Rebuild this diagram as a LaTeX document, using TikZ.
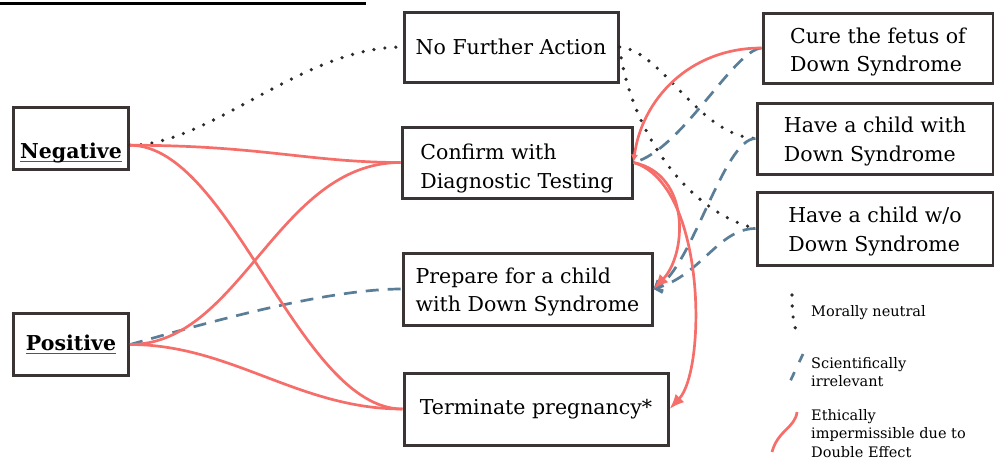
\documentclass[tikz,border=0pt]{standalone}
\usepackage{fontspec}
\setmainfont{DejaVu Serif}
\usetikzlibrary{arrows.meta}
\definecolor{boxc}{HTML}{3B3434}
\definecolor{redc}{HTML}{F66E6A}
\definecolor{bluec}{HTML}{5B7E98}
\definecolor{dotc}{HTML}{2B2B2B}
\definecolor{ulc}{HTML}{555555}
\newcommand\myul[1]{\setbox0\hbox{#1}\rlap{\textcolor{ulc}{\vrule height -2.5pt depth 4.2pt width \wd0}}\box0}
\newcommand\tstrut[1]{\rule{0pt}{#1}}
\begin{document}
\begin{tikzpicture}[x=1pt,y=-1pt,
  box/.style={draw=boxc, line width=3pt, fill=white, align=left, inner sep=0pt,
    font=\fontsize{20.5}{28.5}\selectfont},
  redl/.style={draw=redc, line width=2.7pt},
  dashl/.style={draw=bluec, line width=2.7pt, dash pattern=on 13pt off 9pt},
  dotl/.style={draw=dotc, line width=3.6pt, line cap=round, dash pattern=on 0pt off 11pt},
  bigtip/.style={-{Latex[length=15pt,width=12pt]}},
  smalltip/.style={-{Latex[length=8pt,width=7pt]}},
  bluetip/.style={-{Straight Barb[length=6pt,width=12pt]}},
  legtext/.style={anchor=north west, inner sep=0pt, align=left,
    font=\fontsize{14.5}{18.5}\selectfont}
]
\useasboundingbox (0,0) rectangle (994,461);

% title rule (text cut off above)
\draw[line width=3.2pt] (0,3.5) -- (366,3.5);

% nodes
\node[box, minimum width=115pt, minimum height=62pt] (neg) at (71,138) {\tstrut{45pt}\textbf{\myul{Negative}}};
\node[box, minimum width=115pt, minimum height=62pt] (pos) at (71,344.5) {\textbf{\myul{Positive}}};
\node[box, minimum width=214pt, minimum height=70pt] (nfa) at (511,47) {No Further Action};
\node[box, minimum width=230pt, minimum height=71pt] (conf) at (517,162.5) {\tstrut{27.6pt}Confirm with\\Diagnostic Testing};
\node[box, minimum width=249pt, minimum height=72pt] (prep) at (527.5,289) {\tstrut{21.6pt}Prepare for a child\\with Down Syndrome};
\node[box, minimum width=264pt, minimum height=72pt] (term) at (536,409) {Terminate pregnancy*};
\node[box, minimum width=230pt, minimum height=70pt] (cure) at (878,48) {\tstrut{23.6pt}Cure the fetus of\\Down Syndrome};
\node[box, minimum width=236pt, minimum height=71pt] (hwith) at (875,138.5) {\tstrut{21.6pt}Have a child with\\Down Syndrome};
\node[box, minimum width=236pt, minimum height=73pt] (hwo) at (875,228.5) {\tstrut{21.6pt}Have a child w/o\\Down Syndrome};

% dotted: morally neutral
\draw[dotl] (neg.-7) .. controls +(80,0) and +(-100,0) .. (nfa.west);
\draw[dotl] (nfa.east) .. controls +(42,3) and +(-57,-3) .. (hwith.west);
\draw[dotl] (nfa.east) .. controls +(10,78) and +(-72,-18) .. (hwo.west);

% dashed: scientifically irrelevant
\draw[dashl] (pos.east) .. controls +(51,-14) and +(-83,0) .. (prep.west);
\draw[dashl] (cure.west) .. controls +(-28,2) and +(48,-12) .. (conf.east);
\draw[dashl, bluetip] (hwith.west) .. controls +(-32,0) and +(38,-19) .. (prep.east);
\draw[dashl, bluetip] (hwo.west) .. controls +(-37,0) and +(48,-14) .. (prep.east);

% red: ethically impermissible
\draw[redl] (neg.-7) .. controls +(130,0) and +(-90,0) .. (conf.west);
\draw[redl] (neg.-7) .. controls +(101,0) and +(-104,0) .. (term.west);
\draw[redl] (pos.east) .. controls +(111,0) and +(-123,0) .. (conf.west);
\draw[redl] (pos.east) .. controls +(101,0) and +(-104,0) .. (term.west);
\draw[redl, smalltip] (cure.west) .. controls +(-73,0) and +(8,-62) .. (conf.east);
\draw[redl, bigtip] (conf.east) .. controls +(58,12) and +(33,-34) .. (prep.east);
\draw[redl, bigtip] (conf.east) .. controls +(73,22) and +(37,-39) .. (term.east);

% legend
\draw[dotl] (792,295) .. controls (792,315) and (794,328) .. (798,334);
\draw[dashl, dash pattern=on 9pt off 11pt] (803,354) -- (787,388);
\draw[redl] (797,412) .. controls (795,428) and (778,430) .. (772,452);
\node[legtext] (l1) at (811,305) {Morally neutral};
\node[legtext] (l2) at (811,357) {Scientifically\\irrelevant};
\node[legtext] (l3) at (811,409) {Ethically\\impermissible due to\\Double Effect};
\end{tikzpicture}
\end{document}
